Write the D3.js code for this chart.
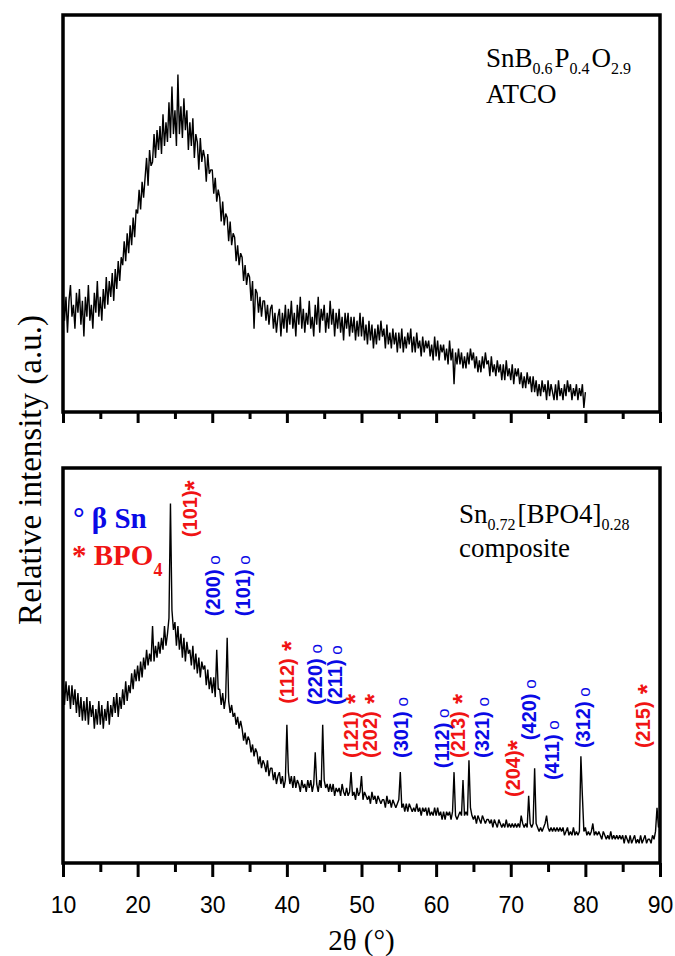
<!DOCTYPE html>
<html>
<head>
<meta charset="utf-8">
<title>XRD patterns</title>
<script src="https://d3js.org/d3.v7.min.js"></script>
<style>
  body { margin: 0; background: #fff; }
  svg { display: block; }
  .frame { fill: none; stroke: #000; stroke-width: 3.5px; }
  .axis path { display: none; }
  .axis line { stroke: #000; stroke-width: 3px; }
  .axis text { font-family: "Liberation Sans", Arial, sans-serif; font-size: 23px; fill: #000; }
  .trace { fill: none; stroke: #000; stroke-width: 1.4px; stroke-linejoin: bevel; }
  .serif { font-family: "Liberation Serif", "Times New Roman", serif; }
  .hkl { font-family: "Liberation Sans", Arial, sans-serif; font-weight: bold; font-size: 20px; }
</style>
</head>
<body>
<div id="chart"></div>
<script>
// 2theta grid of both scans
var thetaStart = 10, thetaStep = 0.2;

// SnB0.6P0.4O2.9 ATCO, 10 - 80 deg
var atcoIntensity = [
  31, 23, 29, 20, 28,  32, 24, 27, 21, 30,  25, 31, 22, 28, 19,  29, 24, 32, 23, 27,
  21, 30, 25, 33, 24,  29, 23, 31, 26, 34,  27, 33, 29, 35, 28,  36, 31, 38, 33, 39,
  37, 43, 38, 45, 40,  47, 42, 49, 44, 51,  50, 56, 51, 58, 54,  59, 64, 57, 66, 62,
  63, 70, 64, 71, 66,  72, 65, 75, 67, 73,  68, 78, 69, 82, 70,  76, 67, 85, 70, 77,
  69, 79, 71, 76, 66,  73, 67, 74, 64, 70,  68, 61, 69, 63, 66,  64, 58, 65, 60, 61,
  61, 55, 59, 53, 56,  54, 48, 53, 47, 50,  49, 43, 48, 42, 45,  44, 38, 42, 37, 40,
  39, 33, 37, 32, 35,  34, 28, 33, 21, 31,  30, 25, 29, 24, 28,  28, 23, 27, 22, 26,
  27, 21, 25, 20, 24,  26, 19, 25, 21, 27,  20, 26, 22, 28, 21,  25, 19, 27, 22, 29,
  21, 26, 20, 25, 22,  28, 21, 24, 19, 27,  22, 29, 20, 26, 23,  27, 20, 25, 21, 28,
  22, 26, 19, 25, 21,  26, 20, 24, 18, 25,  21, 25, 19, 24, 20,  24, 18, 23, 19, 25,
  19, 24, 18, 22, 17,  23, 18, 22, 16, 21,  17, 22, 18, 23, 19,  21, 16, 22, 17, 20,
  16, 21, 17, 20, 15,  20, 16, 21, 15, 19,  16, 20, 17, 21, 15,  19, 15, 20, 16, 18,
  14, 19, 15, 18, 16,  18, 14, 17, 13, 19,  14, 18, 13, 17, 15,  17, 13, 16, 12, 18,
  13, 16, 7, 15, 12,   16, 12, 15, 11, 14,  11, 15, 12, 16, 13,  15, 11, 14, 10, 13,
  10, 14, 11, 15, 12,  13, 9, 14, 10, 12,   9, 13, 10, 12, 8,    12, 8, 13, 9, 11,
  8, 12, 7, 11, 9,     11, 7, 10, 6, 9,     6, 10, 7, 9, 5,      9, 5, 8, 4, 7,
  4, 8, 5, 7, 3,       8, 4, 7, 5, 3,       7, 3, 8, 4, 6,       3, 7, 4, 8, 5,
  7, 3, 6, 4, 7,       3, 6, 4, 7, 1,
  5
];

// Sn0.72[BPO4]0.28 composite, 10 - 90 deg
var compositeIntensity = [
  47, 40, 46, 41, 45,  39, 45, 40, 44, 38,  43, 37, 42, 36, 41,  36, 42, 35, 41, 37,
  40, 34, 39, 35, 41,  35, 40, 34, 39, 36,  41, 35, 40, 37, 42,  38, 43, 37, 42, 39,
  44, 40, 46, 41, 45,  43, 48, 44, 49, 46,  50, 46, 51, 47, 52,  49, 54, 50, 53, 51,
  60, 51, 55, 52, 56,  53, 57, 54, 60, 55,  58, 62, 91, 64, 59,  61, 55, 60, 54, 58,
  52, 57, 51, 56, 53,  54, 50, 55, 49, 53,  48, 52, 47, 51, 49,  50, 45, 49, 44, 47,
  43, 47, 42, 54, 44,  44, 40, 43, 39, 42,  57, 41, 38, 40, 37,  38, 35, 37, 34, 36,
  34, 31, 33, 30, 32,  31, 28, 30, 27, 29,  28, 25, 27, 24, 26,  25, 23, 26, 22, 24,
  24, 21, 23, 20, 22,  23, 20, 22, 19, 21,  35, 23, 20, 22, 19,  22, 19, 21, 20, 18,
  21, 19, 20, 18, 21,  19, 21, 18, 20, 28,  20, 18, 21, 19, 35,  21, 19, 20, 18, 20,
  18, 20, 17, 19, 18,  19, 17, 20, 18, 17,  19, 17, 18, 23, 17,  18, 16, 19, 17, 18,
  22, 16, 18, 17, 16,  17, 15, 18, 16, 17,  15, 17, 16, 15, 16,  16, 14, 17, 15, 16,
  14, 16, 15, 14, 15,  16, 23, 14, 15, 13,  15, 13, 15, 14, 13,  14, 13, 15, 13, 14,
  12, 14, 13, 14, 12,  14, 12, 13, 12, 14,  12, 14, 12, 13, 11,  13, 11, 13, 12, 13,
  11, 13, 23, 12, 11,  12, 13, 12, 21, 12,  13, 12, 26, 14, 12,  11, 12, 10, 12, 11,
  10, 12, 11, 10, 11,  11, 10, 11, 9, 11,   10, 9, 11, 10, 9,    10, 9, 11, 9, 10,
  9, 10, 9, 10, 9,     10, 9, 12, 10, 9,    10, 9, 17, 10, 9,    10, 24, 10, 9, 8,
  9, 8, 9, 10, 12,     9, 8, 9, 8, 9,       8, 9, 8, 9, 8,       9, 7, 8, 9, 7,
  8, 7, 9, 7, 8,       7, 8, 27, 17, 8,     9, 7, 8, 7, 8,       10, 7, 8, 7, 8,
  7, 6, 8, 7, 6,       7, 6, 8, 6, 7,       6, 7, 6, 7, 6,       7, 5, 7, 6, 5,
  7, 5, 6, 7, 5,       6, 5, 7, 5, 6,       7, 5, 6, 6, 5,       7, 6, 8, 14, 9,
  10
];

var xTicksMajor = [10, 20, 30, 40, 50, 60, 70, 80, 90];
var xTicksMinor = [15, 25, 35, 45, 55, 65, 75, 85];

// reflection labels of the composite: index, phase, 2theta and intensity level of the label foot
var hklLabels = ["(101)", "(200)", "(101)", "(112)", "(220)", "(211)", "(121)", "(202)", "(301)",
                 "(112)", "(213)", "(321)", "(204)", "(420)", "(411)", "(312)", "(215)"];
var hklPhase  = ["BPO4", "Sn", "Sn", "BPO4", "Sn", "Sn", "BPO4", "BPO4", "Sn",
                 "Sn", "BPO4", "Sn", "BPO4", "Sn", "Sn", "Sn", "BPO4"];
var hklTheta  = [27.0, 30.1, 34.1, 40.0, 43.8, 46.4, 48.5, 51.1, 55.2,
                 60.8, 62.9, 66.1, 70.3, 72.4, 75.5, 79.7, 87.7];
var hklLevel  = [82.5, 62.5, 62.5, 40.3, 40.0, 40.0, 26.6, 26.6, 26.6,
                 24.0, 26.6, 26.6, 16.7, 31.1, 21.0, 29.1, 29.1];

var width = 675, height = 956;
var blue = "#0a0ae6", red = "#f01414";

var svg = d3.select("#chart").append("svg")
    .attr("width", width)
    .attr("height", height);

var x = d3.scaleLinear().domain([10, 90]).range([63, 660]);
var yTop = d3.scaleLinear().domain([0, 100]).range([412, 15]);
var yBot = d3.scaleLinear().domain([0, 100]).range([863, 468]);

function drawPanel(y, values, majorLen, minorLen, labelled) {
    var g = svg.append("g");
    var line = d3.line()
        .x(function(d, i) { return x(thetaStart + i * thetaStep); })
        .y(function(d) { return y(d); });
    g.append("path")
        .datum(values)
        .attr("class", "trace")
        .attr("d", line);

    var r = y.range();
    g.append("rect")
        .attr("class", "frame")
        .attr("x", x.range()[0])
        .attr("y", r[1])
        .attr("width", x.range()[1] - x.range()[0])
        .attr("height", r[0] - r[1]);

    g.append("g")
        .attr("class", "axis")
        .attr("transform", "translate(0," + r[0] + ")")
        .call(d3.axisBottom(x).tickValues(xTicksMinor).tickSize(minorLen).tickFormat(""));
    g.append("g")
        .attr("class", "axis")
        .attr("transform", "translate(0," + r[0] + ")")
        .call(d3.axisBottom(x).tickValues(xTicksMajor).tickSize(majorLen).tickPadding(20)
              .tickFormat(labelled ? d3.format("d") : ""));
}

drawPanel(yTop, atcoIntensity, 11, 7, false);
drawPanel(yBot, compositeIntensity, 14, 9, true);

// sample names
var t1 = svg.append("text").attr("class", "serif").attr("x", 486).attr("y", 67)
    .style("font-size", "27px").style("fill", "#000");
t1.append("tspan").text("SnB");
t1.append("tspan").attr("dy", 7).style("font-size", "16px").text("0.6");
t1.append("tspan").attr("dy", -7).attr("dx", 2).text("P");
t1.append("tspan").attr("dy", 7).style("font-size", "16px").text("0.4");
t1.append("tspan").attr("dy", -7).attr("dx", 2).text("O");
t1.append("tspan").attr("dy", 7).style("font-size", "16px").text("2.9");
svg.append("text").attr("class", "serif").attr("x", 486).attr("y", 103)
    .style("font-size", "27px").style("fill", "#000").text("ATCO");

var t2 = svg.append("text").attr("class", "serif").attr("x", 459).attr("y", 523)
    .style("font-size", "27px").style("fill", "#000");
t2.append("tspan").text("Sn");
t2.append("tspan").attr("dy", 7).style("font-size", "16px").text("0.72");
t2.append("tspan").attr("dy", -7).attr("dx", 2).text("[BPO4]");
t2.append("tspan").attr("dy", 7).style("font-size", "16px").text("0.28");
svg.append("text").attr("class", "serif").attr("x", 459).attr("y", 557)
    .style("font-size", "27px").style("fill", "#000").text("composite");

// phase legend
svg.append("text").attr("class", "serif").attr("x", 73).attr("y", 528)
    .style("font-size", "29px").style("font-weight", "bold").style("fill", blue)
    .text("\u00b0 \u03b2 Sn");
var t3 = svg.append("text").attr("class", "serif").attr("x", 72).attr("y", 565)
    .style("font-size", "29px").style("font-weight", "bold").style("fill", red);
t3.append("tspan").text("* BPO");
t3.append("tspan").attr("dy", 11).style("font-size", "18px").text("4");

// reflection labels
hklLabels.forEach(function(lab, i) {
    var isSn = hklPhase[i] === "Sn";
    var t = svg.append("text")
        .attr("class", "hkl")
        .style("fill", isSn ? blue : red)
        .attr("transform", "translate(" + x(hklTheta[i]) + "," + yBot(hklLevel[i]) + ") rotate(-90)")
        .attr("dy", "0.36em");
    t.append("tspan").text(lab);
    var gap = (lab === "(101)" && !isSn) || lab === "(204)" ? "" : " ";
    if (isSn) {
        t.append("tspan").style("font-weight", "normal").style("font-size", "17px").text(gap + "o");
    } else {
        t.append("tspan").attr("dy", 6).style("font-size", "26px").text(gap + "*");
    }
});

// axis titles
svg.append("text").attr("class", "serif")
    .attr("transform", "translate(41,470) rotate(-90)")
    .attr("text-anchor", "middle")
    .style("font-size", "33px").style("fill", "#000")
    .text("Relative intensity (a.u.)");
svg.append("text").attr("class", "serif")
    .attr("x", (x.range()[0] + x.range()[1]) / 2).attr("y", 950)
    .attr("text-anchor", "middle")
    .style("font-size", "29px").style("fill", "#000")
    .text("2\u03b8 (\u00b0)");
</script>
</body>
</html>
